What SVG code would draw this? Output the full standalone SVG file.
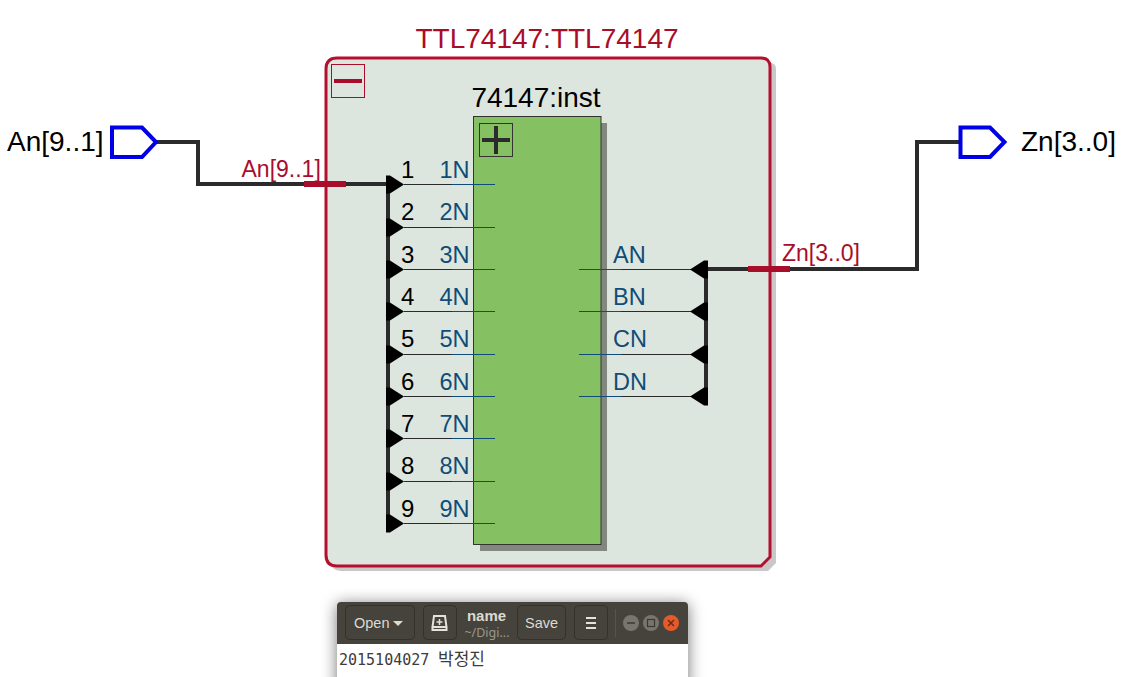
<svg xmlns="http://www.w3.org/2000/svg" width="1128" height="677" viewBox="0 0 1128 677">
<style>
text{font-family:"Liberation Sans",Arial,sans-serif}
.big{font-size:28px;fill:#000}
.red{fill:#a80d2a}
.pin{font-size:23.500px;fill:#0f4d78}
.num{font-size:24px;fill:#000}
.bus{fill:none;stroke:#2b2b2b;stroke-width:4}
.thin{stroke:#2b2b2b;stroke-width:1.2}
.blue{stroke:#0f4d78;stroke-width:1.2}
.rip{stroke:#a80d2a;stroke-width:6}
.port{fill:#fff;stroke:#0000e6;stroke-width:4}
.ui{fill:#dcdad2;font-family:"Liberation Sans",Arial,sans-serif}
.btn{fill:#45433c;stroke:#33312b;stroke-width:1}
</style>
<defs>
<filter id="blur" x="-20%" y="-40%" width="140%" height="180%"><feGaussianBlur stdDeviation="8"/></filter>
<polygon id="ar" points="0,-9 4,-9 18,0 4,9 0,9" fill="#000"/>
<polygon id="al" points="0,-9 -4,-9 -18,0 -4,9 0,9" fill="#000"/>
</defs>

<g id="TTL74147">
<path d="M342 63H770Q776 63 776 69V563L768 571H342Q330 571 330 559V75Q330 63 342 63Z" fill="#c8c8c8"/>
<path d="M337 58H761Q770 58 770 67V557L761 566H337Q326 566 326 555V69Q326 58 337 58Z" fill="#dde6de" stroke="#b50f2e" stroke-width="3"/>
<text class="big red" x="547" y="48" text-anchor="middle">TTL74147:TTL74147</text>
<rect x="331.500" y="64.500" width="33" height="33" fill="none" stroke="#a80d2a" stroke-width="1"/>
<rect x="334" y="79" width="28" height="4" fill="#a80d2a"/>
</g>

<g id="inst">
<rect x="480" y="123" width="127" height="428" fill="#82877f"/>
<rect x="473.500" y="116.500" width="127.500" height="428" fill="#85c162" stroke="#333" stroke-width="1"/>
<text class="big" x="536" y="107" text-anchor="middle">74147:inst</text>
<rect x="479.500" y="123.500" width="33" height="33" fill="none" stroke="#333" stroke-width="1"/>
<rect x="482" y="138" width="28" height="4" fill="#2b2b2b"/>
<rect x="494" y="126" width="4" height="28" fill="#2b2b2b"/>
</g>

<g id="connectors">
<path class="bus" d="M157 142H198V184H387"/>
<path class="bus" d="M388 184V524"/>
<path class="bus" d="M959 142H917V269H706V397"/>
<line class="rip" x1="304" y1="184" x2="346" y2="184"/>
<line class="rip" x1="748" y1="269" x2="790" y2="269"/>
<g class="thin">
<line x1="404" y1="184.500" x2="452" y2="184.500"/><line x1="404" y1="227.500" x2="452" y2="227.500"/><line x1="404" y1="269.500" x2="452" y2="269.500"/><line x1="404" y1="311.500" x2="452" y2="311.500"/><line x1="404" y1="354.500" x2="452" y2="354.500"/><line x1="404" y1="396.500" x2="452" y2="396.500"/><line x1="404" y1="438.500" x2="452" y2="438.500"/><line x1="404" y1="481.500" x2="452" y2="481.500"/><line x1="404" y1="523.500" x2="452" y2="523.500"/>
<line x1="621" y1="269.500" x2="692" y2="269.500"/><line x1="621" y1="311.500" x2="692" y2="311.500"/><line x1="621" y1="354.500" x2="692" y2="354.500"/><line x1="621" y1="396.500" x2="692" y2="396.500"/>
</g>
<g class="blue">
<line x1="452" y1="184.500" x2="495" y2="184.500"/><line x1="452" y1="227.500" x2="495" y2="227.500"/><line x1="452" y1="269.500" x2="495" y2="269.500"/><line x1="452" y1="311.500" x2="495" y2="311.500"/><line x1="452" y1="354.500" x2="495" y2="354.500"/><line x1="452" y1="396.500" x2="495" y2="396.500"/><line x1="452" y1="438.500" x2="495" y2="438.500"/><line x1="452" y1="481.500" x2="495" y2="481.500"/><line x1="452" y1="523.500" x2="495" y2="523.500"/>
<line x1="579" y1="269.500" x2="621" y2="269.500"/><line x1="579" y1="311.500" x2="621" y2="311.500"/><line x1="579" y1="354.500" x2="621" y2="354.500"/><line x1="579" y1="396.500" x2="621" y2="396.500"/>
</g>
<use href="#ar" x="386" y="184.500"/><use href="#ar" x="386" y="227.500"/><use href="#ar" x="386" y="269.500"/><use href="#ar" x="386" y="311.500"/><use href="#ar" x="386" y="354.500"/><use href="#ar" x="386" y="396.500"/><use href="#ar" x="386" y="438.500"/><use href="#ar" x="386" y="481.500"/><use href="#ar" x="386" y="523.500"/>
<use href="#al" x="708" y="269.500"/><use href="#al" x="708" y="311.500"/><use href="#al" x="708" y="354.500"/><use href="#al" x="708" y="396.500"/>
<text class="red" x="241.500" y="176.500" font-size="23">An[9..1]</text>
<text class="red" x="782" y="261" font-size="23">Zn[3..0]</text>
</g>

<g id="labels">
<text class="num" x="401" y="178">1</text><text class="num" x="401" y="220">2</text><text class="num" x="401" y="263">3</text><text class="num" x="401" y="305">4</text><text class="num" x="401" y="347">5</text><text class="num" x="401" y="390">6</text><text class="num" x="401" y="432">7</text><text class="num" x="401" y="474">8</text><text class="num" x="401" y="517">9</text>
<text class="pin" x="439.500" y="178">1N</text><text class="pin" x="439.500" y="220">2N</text><text class="pin" x="439.500" y="263">3N</text><text class="pin" x="439.500" y="305">4N</text><text class="pin" x="439.500" y="347">5N</text><text class="pin" x="439.500" y="390">6N</text><text class="pin" x="439.500" y="432">7N</text><text class="pin" x="439.500" y="474">8N</text><text class="pin" x="439.500" y="517">9N</text>
<text class="pin" x="613" y="263">AN</text><text class="pin" x="613" y="305">BN</text><text class="pin" x="613" y="347">CN</text><text class="pin" x="613" y="390">DN</text>
</g>

<g id="port-in">
<polygon class="port" points="112,127.500 142,127.500 156,142 142,157 112,157"/>
<text class="big" x="7" y="151">An[9..1]</text>
</g>
<g id="port-out">
<polygon class="port" points="960.500,127.500 990,127.500 1004.500,142 990,157 960.500,157"/>
<text class="big" x="1021" y="151">Zn[3..0]</text>
</g>

<g id="window">
<rect x="337" y="604" width="351" height="90" fill="#000" opacity=".55" filter="url(#blur)"/>
<path d="M341 602H684Q688 602 688 606V644H337V606Q337 602 341 602Z" fill="#45433c"/>
<rect x="337" y="644" width="351" height="33" fill="#fff"/>
<rect class="btn" x="345.500" y="605.500" width="69" height="34" rx="4"/>
<text class="ui" x="354" y="628" font-size="14.500">Open</text>
<polygon points="393,621 403,621 398,626" fill="#dcdad2"/>
<rect class="btn" x="423.500" y="605.500" width="33" height="34" rx="4"/>
<path d="M434 616H445L446.500 627H432.500Z M432.500 627V630H446.500V627" fill="none" stroke="#e4e2da" stroke-width="2"/>
<path d="M439.500 619V625M436.500 622H442.500" stroke="#e4e2da" stroke-width="1.500"/>
<text class="ui" x="486.500" y="621" font-size="15" font-weight="bold" text-anchor="middle">name</text>
<text x="487" y="637" font-size="12.500" fill="#9a988f" text-anchor="middle" style="font-family:'Noto Sans','Liberation Sans',sans-serif">~/Digi...</text>
<rect class="btn" x="517.500" y="605.500" width="48" height="34" rx="4"/>
<text class="ui" x="541.500" y="628" font-size="14.500" text-anchor="middle">Save</text>
<rect class="btn" x="574.500" y="605.500" width="33" height="34" rx="4"/>
<path d="M586 618H596M586 623H596M586 628H596" stroke="#e4e2da" stroke-width="2"/>
<line x1="615.500" y1="609" x2="615.500" y2="637" stroke="#56544c"/>
<circle cx="631" cy="623" r="8" fill="#77756e"/><line x1="627" y1="623" x2="635" y2="623" stroke="#3a3934" stroke-width="1.500"/>
<circle cx="651" cy="623" r="8" fill="#77756e"/><rect x="647.500" y="619.500" width="7" height="7" fill="none" stroke="#3a3934" stroke-width="1.200"/>
<circle cx="671" cy="623" r="8" fill="#e5592b"/><path d="M668 620L674 626M674 620L668 626" stroke="#6b2a12" stroke-width="1.500"/>
<text x="339" y="665" font-size="15" fill="#3c3c3c" style="font-family:'DejaVu Sans Mono','Liberation Mono',monospace">2015104027</text>
<text x="438" y="665" font-size="17" fill="#3c3c3c" style="font-family:'Noto Sans CJK KR','Noto Sans',sans-serif">박정진</text>
</g>
</svg>
